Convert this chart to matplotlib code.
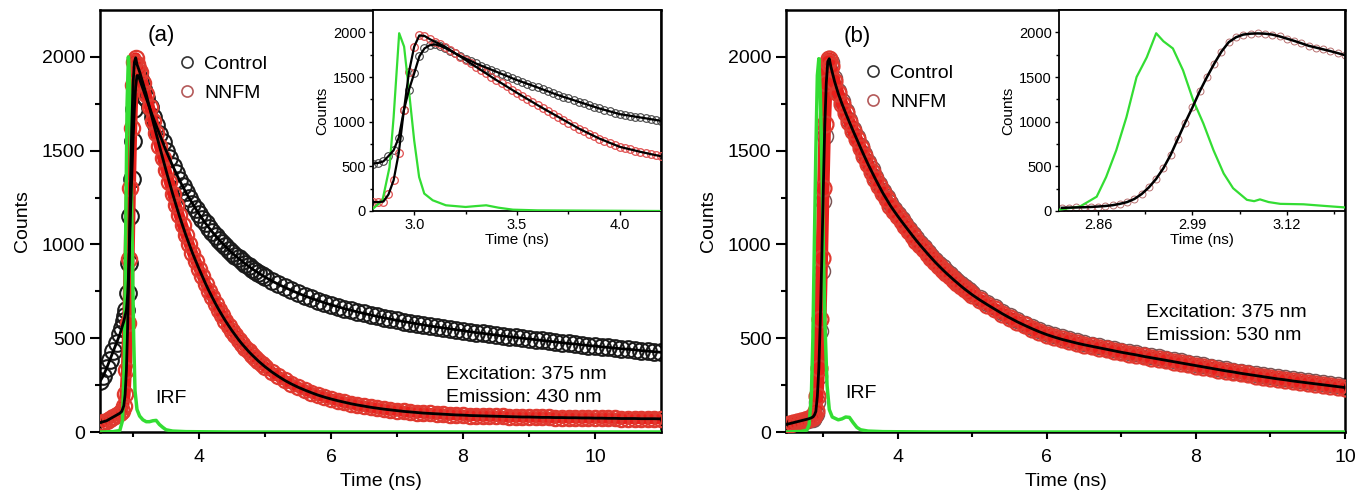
import matplotlib
matplotlib.use("Agg")
import matplotlib.pyplot as plt
from matplotlib.lines import Line2D
from matplotlib.ticker import MultipleLocator, FixedLocator, FormatStrFormatter

plt.rcParams["font.family"] = ["Liberation Sans", "DejaVu Sans"]

# shared time grid pieces (ns)
t_pre = [2.5, 2.55, 2.6, 2.65, 2.7, 2.75, 2.8, 2.83, 2.86, 2.88, 2.9, 2.92,
         2.94, 2.96, 2.98, 3.0, 3.02, 3.04, 3.06, 3.08, 3.1]
t_mid = [3.15, 3.2, 3.25, 3.3, 3.35, 3.4, 3.45, 3.5, 3.55, 3.6, 3.65, 3.7,
         3.75, 3.8, 3.85, 3.9, 3.95, 4.0, 4.05, 4.1, 4.15, 4.2, 4.25, 4.3,
         4.35, 4.4, 4.45, 4.5, 4.55, 4.6, 4.65, 4.7, 4.75, 4.8, 4.85, 4.9,
         4.95, 5.0]
t_late_b = [5.1, 5.2, 5.3, 5.4, 5.5, 5.6, 5.7, 5.8, 5.9, 6.0,
            6.1, 6.2, 6.3, 6.4, 6.5, 6.6, 6.7, 6.8, 6.9, 7.0,
            7.1, 7.2, 7.3, 7.4, 7.5, 7.6, 7.7, 7.8, 7.9, 8.0,
            8.1, 8.2, 8.3, 8.4, 8.5, 8.6, 8.7, 8.8, 8.9, 9.0,
            9.1, 9.2, 9.3, 9.4, 9.5, 9.6, 9.7, 9.8, 9.9, 10.0]
t_late_a = t_late_b + [10.1, 10.2, 10.3, 10.4, 10.5, 10.6, 10.7, 10.8, 10.9, 11.0]

# ---- panel (a): Emission 430 nm -------------------------------------------
t_a = t_pre + t_mid + t_late_a
control_a = [270, 300, 340, 385, 430, 475, 520, 555, 590, 620, 650, 740,
             900, 1150, 1350, 1550, 1720, 1840, 1900, 1900, 1880,
             1830, 1780, 1730, 1680, 1635, 1590, 1545, 1500, 1460, 1420,
             1382, 1345, 1311, 1278, 1248, 1218, 1190, 1162, 1137, 1112,
             1089, 1067, 1046, 1026, 1007, 989, 972, 955, 940, 925,
             911, 897, 884, 871, 859, 848, 837, 826,
             806, 788, 771, 755, 740, 726, 713, 701, 689, 678,
             668, 658, 649, 640, 632, 624, 616, 609, 602, 595,
             589, 583, 577, 571, 565, 560, 555, 550, 545, 540,
             535, 530, 526, 521, 517, 512, 508, 504, 500, 496,
             492, 488, 484, 480, 476, 472, 469, 465, 461, 458,
             454, 451, 447, 444, 441, 438, 434, 431, 428, 425]
nnfm_a = [50, 55, 60, 70, 80, 90, 100, 110, 140, 200, 330, 580,
          920, 1300, 1620, 1850, 1970, 1995, 1960, 1940, 1920,
          1860, 1800, 1730, 1660, 1592, 1525, 1460, 1395, 1332, 1270,
          1212, 1155, 1102, 1050, 1002, 955, 912, 870, 830, 790,
          753, 718, 684, 652, 622, 593, 566, 540, 516, 492,
          470, 450, 430, 412, 395, 378, 363, 348,
          321, 297, 275, 256, 239, 224, 210, 197, 186, 176,
          167, 159, 151, 144, 138, 132, 127, 122, 118, 114,
          110, 107, 104, 101, 99, 97, 95, 93, 91, 90,
          88, 87, 86, 85, 84, 83, 82, 81, 80, 80,
          79, 78, 78, 77, 77, 76, 76, 75, 75, 74,
          74, 73, 73, 72, 72, 72, 71, 71, 71, 70]
t_irf_a = [2.5, 2.7, 2.8, 2.84, 2.87, 2.89, 2.91, 2.93, 2.95, 2.97, 2.99, 3.01,
           3.03, 3.06, 3.1, 3.15, 3.2, 3.25, 3.3, 3.35, 3.4, 3.45, 3.5, 3.6,
           3.8, 4.5, 11.0]
irf_a = [0, 2, 8, 60, 400, 1100, 1750, 2000, 1850, 1450, 950, 500,
         220, 120, 85, 65, 55, 55, 60, 62, 40, 25, 12, 5,
         2, 0, 0]

# inset (a)
t_ia = [2.8, 2.825, 2.85, 2.875, 2.9, 2.925, 2.95, 2.975, 3.0, 3.025,
        3.05, 3.075, 3.1, 3.125, 3.15, 3.175, 3.2, 3.225, 3.25, 3.275,
        3.3, 3.325, 3.35, 3.375, 3.4, 3.425, 3.45, 3.475, 3.5, 3.525,
        3.55, 3.575, 3.6, 3.625, 3.65, 3.675, 3.7, 3.725, 3.75, 3.775,
        3.8, 3.825, 3.85, 3.875, 3.9, 3.925, 3.95, 3.975, 4.0, 4.025,
        4.05, 4.075, 4.1, 4.125, 4.15, 4.175, 4.2]
control_ia = [531, 538, 555, 615, 680, 820, 1129, 1360, 1540, 1730,
              1820, 1855, 1865, 1850, 1825, 1795, 1764, 1735, 1707, 1680,
              1652, 1628, 1605, 1582, 1559, 1535, 1512, 1488, 1465, 1445,
              1424, 1404, 1383, 1361, 1340, 1318, 1297, 1278, 1260, 1241,
              1222, 1204, 1185, 1167, 1148, 1132, 1116, 1100, 1084, 1075,
              1066, 1056, 1047, 1038, 1028, 1019, 1009]
nnfm_ia = [100, 100, 105, 185, 344, 650, 1129, 1560, 1840, 1965,
           1960, 1925, 1895, 1868, 1840, 1802, 1764, 1727, 1690, 1652,
           1615, 1577, 1540, 1502, 1465, 1430, 1394, 1358, 1323, 1288,
           1254, 1220, 1185, 1152, 1119, 1087, 1054, 1021, 988, 956,
           923, 895, 867, 839, 811, 788, 764, 741, 718, 704,
           690, 676, 662, 650, 637, 625, 613]
t_irf_ia = [2.8, 2.846, 2.88, 2.9, 2.927, 2.951, 2.976, 3.0, 3.024, 3.049,
            3.09, 3.154, 3.25, 3.3, 3.35, 3.41, 3.48, 3.6, 4.2]
irf_ia = [26, 120, 490, 1050, 1990, 1840, 1315, 790, 380, 195,
          120, 64, 45, 55, 64, 37, 15, 7, 0]

# ---- panel (b): Emission 530 nm -------------------------------------------
t_b = t_pre + t_mid + t_late_b
control_b = [35, 40, 45, 50, 55, 60, 65, 68, 72, 80, 95, 160,
             300, 540, 860, 1230, 1580, 1830, 1960, 1990, 1975,
             1885, 1818, 1762, 1712, 1664, 1617, 1572, 1527, 1483, 1440,
             1400, 1360, 1322, 1285, 1252, 1220, 1191, 1163, 1136, 1110,
             1084, 1058, 1033, 1008, 985, 962, 940, 918, 898, 878,
             859, 840, 822, 805, 788, 772, 757, 742,
             714, 689, 665, 641, 618, 597, 578, 560, 544, 529,
             516, 504, 494, 484, 475, 466, 458, 450, 442, 434,
             427, 420, 412, 405, 398, 391, 383, 376, 369, 362,
             355, 348, 341, 334, 327, 321, 315, 309, 303, 297,
             291, 286, 281, 275, 270, 265, 260, 255, 250, 245]
nnfm_b = [40, 45, 50, 55, 60, 65, 70, 74, 80, 90, 110, 190,
          340, 600, 930, 1300, 1640, 1860, 1975, 1990, 1950,
          1870, 1805, 1750, 1700, 1652, 1605, 1560, 1515, 1471, 1428,
          1388, 1348, 1310, 1273, 1240, 1207, 1178, 1150, 1123, 1097,
          1071, 1045, 1020, 996, 973, 950, 928, 906, 886, 866,
          847, 829, 811, 794, 777, 761, 746, 731,
          704, 679, 655, 631, 609, 588, 569, 551, 534, 519,
          506, 494, 484, 474, 465, 457, 449, 441, 433, 425,
          418, 411, 403, 396, 389, 382, 375, 368, 361, 354,
          347, 340, 333, 326, 320, 313, 307, 301, 295, 289,
          283, 278, 272, 267, 262, 257, 252, 247, 242, 237]
t_irf_b = [2.5, 2.7, 2.78, 2.81, 2.84, 2.86, 2.88, 2.9, 2.92, 2.94, 2.96, 2.98,
           3.0, 3.02, 3.05, 3.08, 3.12, 3.2, 3.25, 3.3, 3.35, 3.4, 3.45, 3.5,
           3.6, 3.8, 4.5, 10.0]
irf_b = [0, 3, 10, 40, 200, 500, 1000, 1500, 1900, 1990, 1800, 1450,
         1000, 600, 250, 120, 80, 65, 70, 80, 78, 50, 25, 12,
         5, 2, 0, 0]

# inset (b)
t_ib = [2.81, 2.82, 2.83, 2.84, 2.85, 2.86, 2.87, 2.88, 2.89, 2.90,
        2.91, 2.92, 2.93, 2.94, 2.95, 2.96, 2.97, 2.98, 2.99, 3.00,
        3.01, 3.02, 3.03, 3.04, 3.05, 3.06, 3.07, 3.08, 3.09, 3.10,
        3.11, 3.12, 3.13, 3.14, 3.15, 3.16, 3.17, 3.18, 3.19, 3.20]
nnfm_ib = [35, 38, 40, 42, 45, 50, 56, 65, 80, 100,
           135, 190, 265, 360, 480, 630, 810, 990, 1160, 1340,
           1500, 1650, 1785, 1890, 1945, 1975, 1985, 1988, 1985, 1975,
           1955, 1930, 1905, 1878, 1850, 1830, 1810, 1790, 1768, 1745]
t_irf_ib = [2.806, 2.835, 2.858, 2.871, 2.885, 2.899, 2.913, 2.927, 2.94, 2.95,
            2.963, 2.977, 2.991, 3.005, 3.019, 3.033, 3.046, 3.065, 3.075, 3.083,
            3.095, 3.111, 3.143, 3.175, 3.2]
irf_ib = [15, 50, 160, 380, 680, 1050, 1500, 1720, 1990, 1900,
          1820, 1575, 1240, 980, 680, 420, 255, 125, 110, 130,
          100, 80, 75, 55, 40]

GREEN = "#33dd33"
RED = "#e8201c"
RING = "#e03a30"
ROSY = "#b45a5a"
DARK = "#1a1a1a"


def style_main(ax, xmax):
    ax.set_xlim(2.5, xmax)
    ax.set_ylim(0, 2250)
    ax.xaxis.set_major_locator(FixedLocator([4, 6, 8, 10]))
    ax.xaxis.set_minor_locator(FixedLocator([3, 5, 7, 9]))
    ax.yaxis.set_major_locator(MultipleLocator(500))
    ax.yaxis.set_minor_locator(FixedLocator([250, 750, 1250, 1750]))
    for s in ax.spines.values():
        s.set_linewidth(1.8)
    ax.tick_params(axis="x", which="major", direction="out", length=5, width=1.5,
                   labelsize=14, pad=7)
    ax.tick_params(axis="y", which="major", direction="out", length=7.5, width=1.5,
                   labelsize=14, pad=3)
    ax.tick_params(which="minor", direction="out", length=3.5, width=1.5)
    ax.set_xlabel("Time (ns)", fontsize=14, labelpad=5)
    ax.set_ylabel("Counts", fontsize=14, labelpad=8)


def style_inset(ax, xlim):
    ax.set_xlim(*xlim)
    ax.set_ylim(0, 2250)
    ax.yaxis.set_major_locator(MultipleLocator(500))
    ax.yaxis.set_minor_locator(FixedLocator([250, 750, 1250, 1750]))
    for s in ax.spines.values():
        s.set_linewidth(1.3)
    ax.tick_params(which="major", direction="out", length=3, width=1, labelsize=10.5, pad=2)
    ax.tick_params(which="minor", direction="out", length=2, width=1)
    ax.set_xlabel("Time (ns)", fontsize=11, labelpad=1)
    ax.set_ylabel("Counts", fontsize=11, labelpad=3)


def legend(ax, anchor):
    handles = [Line2D([], [], ls="none", marker="o", ms=8, mfc="none", mec="#333333", mew=1.2),
               Line2D([], [], ls="none", marker="o", ms=8, mfc="none", mec=ROSY, mew=1.2)]
    ax.legend(handles, ["Control", "NNFM"], loc="upper left", bbox_to_anchor=anchor,
              frameon=False, fontsize=14, handlelength=1, handletextpad=0.4,
              labelspacing=0.6, borderpad=0, borderaxespad=0)


fig = plt.figure(figsize=(13.59, 4.96), dpi=100)

# main (a)
ax1 = fig.add_axes([0.0736, 0.129, 0.4128, 0.851])
ax1.plot(t_a, control_a, ls="none", marker="o", ms=12, mfc="none", mec=DARK, mew=1.5, zorder=2)
ax1.plot(t_a, nnfm_a, color=RED, lw=8, solid_joinstyle="round", zorder=2.5)
ax1.plot(t_a, nnfm_a, ls="none", marker="o", ms=11, mfc="none", mec=RING, mew=1.6, zorder=3)
ax1.plot(t_irf_a, irf_a, color=GREEN, lw=2.5, zorder=4)
ax1.plot(t_a, control_a, color="black", lw=2, zorder=5)
ax1.plot(t_a, nnfm_a, color="black", lw=2, zorder=5)
style_main(ax1, 11)
ax1.text(0.11, 0.94, "(a)", transform=ax1.transAxes, fontsize=16, ha="center", va="center")
ax1.text(3.34, 176, "IRF", fontsize=14, ha="left", va="center")
ax1.text(7.74, 305, "Excitation: 375 nm", fontsize=14, ha="left", va="center")
ax1.text(7.74, 182, "Emission: 430 nm", fontsize=14, ha="left", va="center")
legend(ax1, (0.137, 0.893))

# inset (a)
ins1 = fig.add_axes([0.2745, 0.5746, 0.2119, 0.4052])
ins1.plot(t_ia, control_ia, ls="none", marker="o", ms=5.5, mfc="none", mec="#444444", mew=0.8, zorder=2)
ins1.plot(t_ia, nnfm_ia, ls="none", marker="o", ms=5.5, mfc="none", mec="#e05050", mew=0.9, zorder=3)
ins1.plot(t_irf_ia, irf_ia, color=GREEN, lw=1.6, zorder=4)
ins1.plot(t_ia, control_ia, color="black", lw=1.6, zorder=5)
ins1.plot(t_ia, nnfm_ia, color="black", lw=1.6, zorder=5)
style_inset(ins1, (2.8, 4.2))
ins1.xaxis.set_major_locator(FixedLocator([3.0, 3.5, 4.0]))
ins1.xaxis.set_minor_locator(FixedLocator([3.25, 3.75]))
ins1.xaxis.set_major_formatter(FormatStrFormatter("%.1f"))

# main (b)
ax2 = fig.add_axes([0.5784, 0.129, 0.4113, 0.851])
ax2.plot(t_b, control_b, ls="none", marker="o", ms=11.5, mfc="none", mec="#7a5555", mew=1.1, zorder=2)
ax2.plot(t_b, nnfm_b, color=RED, lw=9, solid_joinstyle="round", zorder=2.5)
ax2.plot(t_b, nnfm_b, ls="none", marker="o", ms=11.5, mfc="none", mec=RING, mew=1.6, zorder=3)
ax2.plot(t_irf_b, irf_b, color=GREEN, lw=2.5, zorder=4)
ax2.plot(t_b, nnfm_b, color="black", lw=2, zorder=5)
style_main(ax2, 10)
ax2.text(0.127, 0.936, "(b)", transform=ax2.transAxes, fontsize=16, ha="center", va="center")
ax2.text(3.29, 203, "IRF", fontsize=14, ha="left", va="center")
ax2.text(7.33, 635, "Excitation: 375 nm", fontsize=14, ha="left", va="center")
ax2.text(7.33, 517, "Emission: 530 nm", fontsize=14, ha="left", va="center")
legend(ax2, (0.138, 0.872))

# inset (b)
ins2 = fig.add_axes([0.7792, 0.5746, 0.2104, 0.4052])
ins2.plot(t_ib, nnfm_ib, ls="none", marker="o", ms=5, mfc="none", mec="#b87070", mew=0.7, zorder=2)
ins2.plot(t_irf_ib, irf_ib, color=GREEN, lw=1.6, zorder=3)
ins2.plot(t_ib, nnfm_ib, color="black", lw=1.8, zorder=4)
style_inset(ins2, (2.806, 3.2))
ins2.xaxis.set_major_locator(FixedLocator([2.86, 2.99, 3.12]))
ins2.xaxis.set_minor_locator(FixedLocator([2.925, 3.055, 3.185]))
ins2.xaxis.set_major_formatter(FormatStrFormatter("%.2f"))

fig.savefig("out.png", dpi=100)
